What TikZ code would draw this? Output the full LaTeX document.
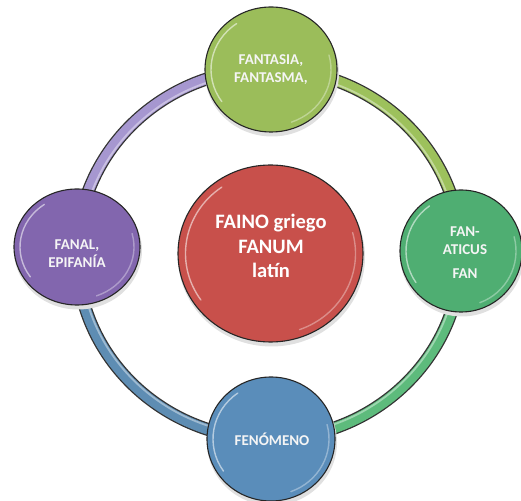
\documentclass[tikz,border=0pt]{standalone}
\usepackage{fontspec}
\setmainfont{Carlito}
\usetikzlibrary{shapes.geometric}
\definecolor{cTop}{HTML}{9BBD5A}
\definecolor{cRight}{HTML}{4FAE72}
\definecolor{cBottom}{HTML}{5A8DBA}
\definecolor{cLeft}{HTML}{8266AE}
\definecolor{cCenter}{HTML}{C8504B}
\definecolor{rPurple}{HTML}{A697D0}
\definecolor{rLgreen}{HTML}{9DC15C}
\definecolor{rGreen}{HTML}{5DBB7C}
\definecolor{rBlue}{HTML}{5E8DB3}
\tikzset{
  ball/.style={ellipse, draw=black!85, line width=1.1pt, fill=#1, inner sep=0pt},
  shadowball/.style={ellipse, fill=black!12, draw=none, inner sep=0pt},
  outtext/.style={text=white!96!black, font=\fontsize{15}{17.5}\selectfont\bfseries, align=center, inner sep=0pt},
  midtext/.style={text=white, font=\fontsize{20.5}{24.5}\selectfont\bfseries, align=center, inner sep=0pt},
  ringout/.style={line width=13pt, draw=black!80},
  ringin/.style={line width=10.4pt, draw=#1},
  ringhl/.style={line width=1.8pt, draw=white, draw opacity=0.4},
  gloss/.style={line width=1.4pt, draw=white, draw opacity=0.55, line cap=round},
}
\begin{document}
\begin{tikzpicture}[x=1pt,y=1pt]
\useasboundingbox (0,0) rectangle (521,500);
\coordinate (ring) at (269,246);
% ring outline
\draw[ringout] (ring) ellipse [x radius=192, y radius=185];
% coloured arcs
\draw[ringin=rPurple] (ring) ++(180:192 and 185) arc[start angle=180, end angle=90, x radius=192, y radius=185];
\draw[ringin=rLgreen] (ring) ++(90:192 and 185) arc[start angle=90, end angle=0, x radius=192, y radius=185];
\draw[ringin=rGreen] (ring) ++(0:192 and 185) arc[start angle=0, end angle=-90, x radius=192, y radius=185];
\draw[ringin=rBlue] (ring) ++(270:192 and 185) arc[start angle=270, end angle=180, x radius=192, y radius=185];
\draw[ringhl] (ring) ellipse [x radius=188.5, y radius=181.5];
% shadows
\node[shadowball, minimum width=134, minimum height=127] at (272,427) {};
\node[shadowball, minimum width=124, minimum height=124] at (462,245.5) {};
\node[shadowball, minimum width=130, minimum height=126] at (272,57.5) {};
\node[shadowball, minimum width=128, minimum height=118] at (78,249.5) {};
\node[shadowball, minimum width=187, minimum height=179] at (271.5,243) {};
% circles
\node[ball=cTop, minimum width=132, minimum height=125] (top) at (271,430.5) {};
\node[ball=cRight, minimum width=122, minimum height=122] (right) at (461,249) {};
\node[ball=cBottom, minimum width=128, minimum height=124] (bottom) at (271,61) {};
\node[ball=cLeft, minimum width=126, minimum height=116] (left) at (77,253) {};
\node[ball=cCenter, minimum width=185, minimum height=177] (center) at (270.5,246.5) {};
% gloss highlights
\foreach \n/\rx/\ry in {top/60/56, right/55/55, bottom/58/56, left/57/52, center/85/81}{
  \draw[gloss] (\n.center) ++(125:\rx pt and \ry pt) arc[start angle=125, end angle=215, x radius=\rx, y radius=\ry];
  \draw[gloss, draw opacity=0.35] (\n.center) ++(-70:\rx pt and \ry pt) arc[start angle=-70, end angle=15, x radius=\rx, y radius=\ry];
}
% texts
\node[outtext] (ttop) at (271,430.5) {FANTASIA,\\FANTASMA,};
\node[outtext] (tright) at (465,247) {FAN-\\ATICUS\\[7pt]FAN};
\node[outtext] (tbottom) at (272,61) {FENÓMENO};
\node[outtext] (tleft) at (77,246.5) {FANAL,\\EPIFANÍA};
\node[midtext] (tcenter) at (271,254) {FAINO griego\\FANUM\\latín};
\end{tikzpicture}
\end{document}
